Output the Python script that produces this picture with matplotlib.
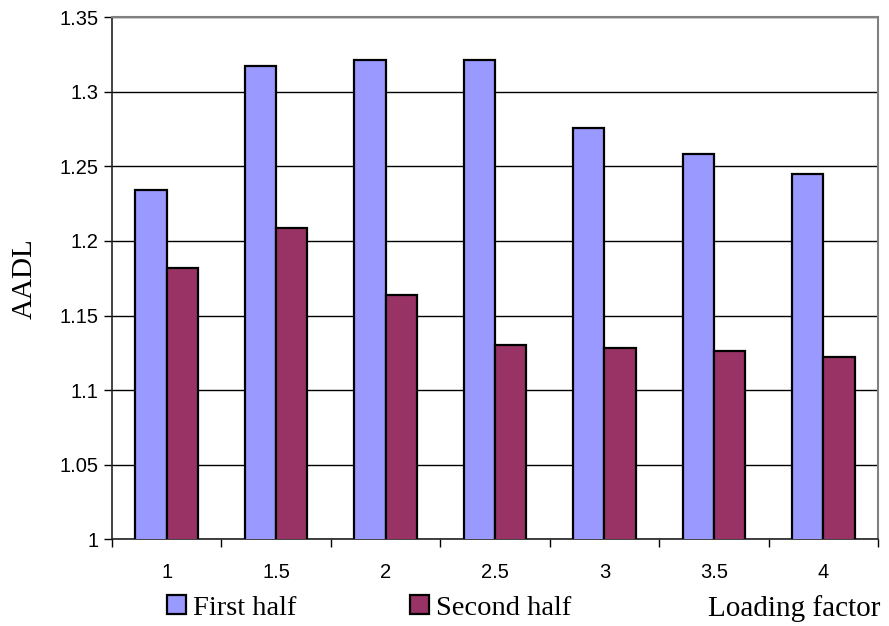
import numpy as np
import matplotlib
matplotlib.use('Agg')
import matplotlib.pyplot as plt

# Data
loading_factor = ['1', '1.5', '2', '2.5', '3', '3.5', '4']
first_half = [1.234, 1.317, 1.321, 1.321, 1.276, 1.258, 1.245]
second_half = [1.182, 1.209, 1.164, 1.130, 1.128, 1.126, 1.122]
y_ticks = [1, 1.05, 1.1, 1.15, 1.2, 1.25, 1.3, 1.35]
y_tick_labels = ['1', '1.05', '1.1', '1.15', '1.2', '1.25', '1.3', '1.35']

fig = plt.figure(figsize=(8.89, 6.26), dpi=100)
ax = fig.add_axes([0.126, 0.1385, 0.8616, 0.834])

x = np.arange(len(loading_factor))
w = 1 / 3.5
ax.bar(x - w / 2, first_half, w, color='#9999FF', edgecolor='black', linewidth=1.6,
       label='First half', zorder=3)
ax.bar(x + w / 2, second_half, w, color='#993366', edgecolor='black', linewidth=1.6,
       label='Second half', zorder=3)

ax.set_ylim(1, 1.35)
ax.set_xlim(-0.5, len(loading_factor) - 0.5)
ax.set_yticks(y_ticks)
ax.set_yticklabels(y_tick_labels, fontname='Liberation Sans', fontsize=14.5)
ax.set_xticks(x)
ax.set_xticklabels(loading_factor, fontname='Liberation Sans', fontsize=14.5)
ax.set_xticks(np.arange(-0.5, len(loading_factor)), minor=True)
ax.tick_params(axis='x', which='major', length=0, pad=17)
ax.tick_params(axis='x', which='minor', length=6, width=1, direction='out')
ax.tick_params(axis='y', length=6, width=1, direction='out', pad=4)

ax.grid(axis='y', color='black', linewidth=1, zorder=0)
ax.set_axisbelow(True)
for side in ['top', 'right']:
    ax.spines[side].set_color('#808080')
    ax.spines[side].set_linewidth(1.5)
for side in ['left', 'bottom']:
    ax.spines[side].set_color('#222222')
    ax.spines[side].set_linewidth(1.2)

ax.set_ylabel('AADL', fontname='Liberation Serif', fontsize=21)
ax.yaxis.set_label_coords(-0.097, 0.5)

fig.legend(loc='center', bbox_to_anchor=(369 / 889, 1 - 608 / 626), ncol=2,
           frameon=False, handlelength=0.65, handleheight=0.65, handletextpad=0.25,
           columnspacing=4.0, prop={'family': 'Liberation Serif', 'size': 20.5},
           borderpad=0, borderaxespad=0)
fig.text(880 / 889, 1 - 616 / 626, 'Loading factor', ha='right', va='baseline',
         fontname='Liberation Serif', fontsize=21)

fig.savefig('out.png', dpi=100, facecolor='white')
